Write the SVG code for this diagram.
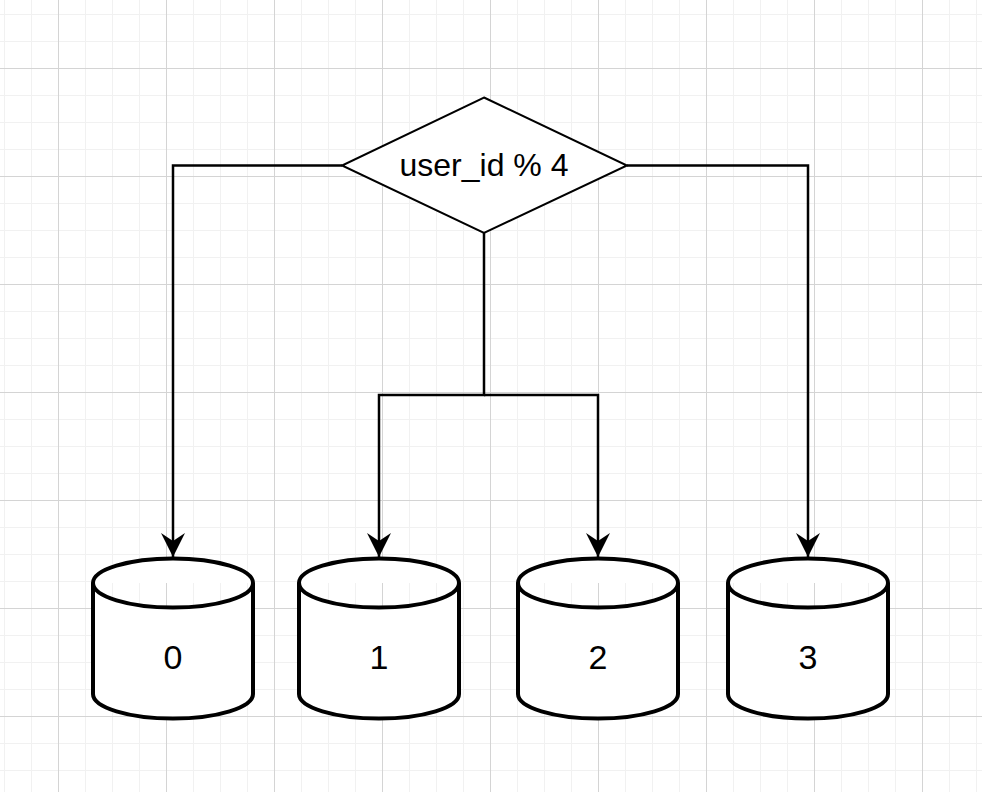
<svg xmlns="http://www.w3.org/2000/svg" width="982" height="792" viewBox="0 0 982 792">
  <style>
    .node-shape { fill: #ffffff; stroke: #000000; stroke-width: 4; }
    .diamond { fill: #ffffff; stroke: #000000; stroke-width: 2; }
    .edge { fill: none; stroke: #000000; stroke-width: 2.5; }
    .label { font-family: "Liberation Sans", Arial, Helvetica, sans-serif; fill: #000000; text-anchor: middle; }
  </style>
  <defs>
    <pattern id="grid" patternUnits="userSpaceOnUse" x="58" y="68" width="108" height="108">
      <path d="M27.5,0 V108 M54.5,0 V108 M81.5,0 V108 M0,27.5 H108 M0,54.5 H108 M0,81.5 H108" stroke="#f1f1f1" stroke-width="1" fill="none"/>
      <path d="M0.5,0 V108 M0,0.5 H108" stroke="#d4d4d4" stroke-width="1" fill="none"/>
    </pattern>
    <marker id="arrow" markerUnits="userSpaceOnUse" viewBox="0 0 24 24" markerWidth="24" markerHeight="24" refX="24" refY="12" orient="auto">
      <path d="M0,0 L24,12 L0,24 L8,12 Z" fill="#000000"/>
    </marker>
  </defs>
  <rect x="0" y="0" width="982" height="792" fill="#ffffff"/>
  <rect x="0" y="0" width="982" height="792" fill="url(#grid)"/>

  <g id="connectors">
    <path class="edge" d="M342,165.5 H173 V557" marker-end="url(#arrow)"/>
    <path class="edge" d="M627,165.5 H808 V557" marker-end="url(#arrow)"/>
    <path class="edge" d="M484,233 V395 H379 V557" marker-end="url(#arrow)"/>
    <path class="edge" d="M484,395 H598 V557" marker-end="url(#arrow)"/>
  </g>

  <g id="decision">
    <polygon class="diamond" points="484,97.5 627,165.5 484,233 342,165.5"/>
    <text class="label" x="484" y="176" font-size="32">user_id % 4</text>
  </g>

  <g id="db0">
    <path class="node-shape" d="M93,583 A80,24.5 0 0 1 253,583 L253,694 A80,24.5 0 0 1 93,694 Z M93,583 A80,24.5 0 0 0 253,583"/>
    <text class="label" x="173" y="669" font-size="34">0</text>
  </g>
  <g id="db1">
    <path class="node-shape" d="M299,583 A80,24.5 0 0 1 459,583 L459,694 A80,24.5 0 0 1 299,694 Z M299,583 A80,24.5 0 0 0 459,583"/>
    <text class="label" x="379" y="669" font-size="34">1</text>
  </g>
  <g id="db2">
    <path class="node-shape" d="M518,583 A80,24.5 0 0 1 678,583 L678,694 A80,24.5 0 0 1 518,694 Z M518,583 A80,24.5 0 0 0 678,583"/>
    <text class="label" x="598" y="669" font-size="34">2</text>
  </g>
  <g id="db3">
    <path class="node-shape" d="M728,583 A80,24.5 0 0 1 888,583 L888,694 A80,24.5 0 0 1 728,694 Z M728,583 A80,24.5 0 0 0 888,583"/>
    <text class="label" x="808" y="669" font-size="34">3</text>
  </g>
</svg>
